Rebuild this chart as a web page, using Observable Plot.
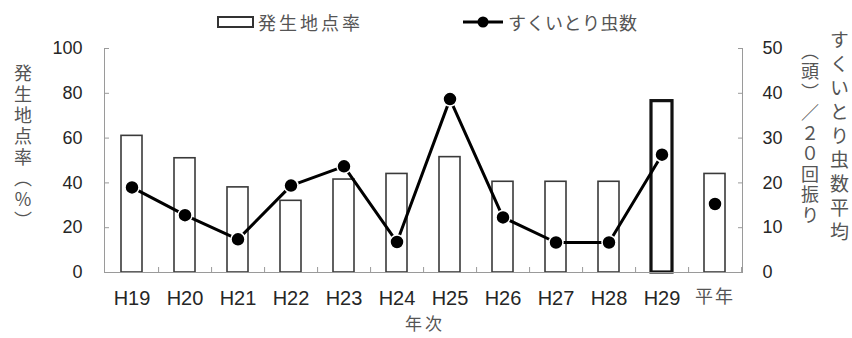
<!DOCTYPE html>
<html><head><meta charset="utf-8">
<script src="https://cdn.jsdelivr.net/npm/d3@7"></script>
<script src="https://cdn.jsdelivr.net/npm/@observablehq/plot@0.6"></script>
<style>
body{margin:0;background:#fff;}
#wrap{position:relative;width:852px;height:338px;overflow:hidden;font-family:"Noto Sans CJK JP",sans-serif;}
.vt{position:absolute;writing-mode:vertical-rl;color:#555;font-family:"Noto Sans CJK JP",sans-serif;white-space:nowrap;}
.up{text-orientation:upright;}
#legend{position:absolute;top:0;left:0;width:852px;height:40px;}
.lg{position:absolute;color:#555;font-size:18px;line-height:18px;font-family:"Noto Sans CJK JP",sans-serif;}
#xt{position:absolute;color:#555;font-size:17px;line-height:17px;letter-spacing:3px;}
svg{position:absolute;top:0;left:0;}
</style></head>
<body><div id="wrap"></div>
<script>
const years = ["H19","H20","H21","H22","H23","H24","H25","H26","H27","H28","H29","平年"];
const rate = [61, 51, 38, 32, 41.5, 44, 51.5, 40.5, 40.5, 40.5, 76.5, 44];
const counts = [19, 12.8, 7.4, 19.4, 23.7, 6.8, 38.7, 12.3, 6.7, 6.7, 26.3, 15.3];
const highlight = "H29";
const normalYear = "平年";
const leftTicks = [0, 20, 40, 60, 80, 100];
const rightTicks = [0, 10, 20, 30, 40, 50];
const leftTitle = "発生地点率（％）";
const rightTitle1 = "すくいとり虫数平均";
const rightTitle2 = "（頭）／２０回振り";
const xTitle = "年次";
const legendBar = "発生地点率";
const legendLine = "すくいとり虫数";

const data = years.map((y, i) => ({year: y, rate: rate[i], count: counts[i]}));
const k = 100 / 50; // right axis maps 0-50 onto the left 0-100 scale

const W = 852, H = 338, ML = 104, MR = 110, MT = 48, MB = 66;
const step = (W - ML - MR) / years.length;
const numFont = "'Liberation Sans', Arial, sans-serif";

const plot = Plot.plot({
  width: W, height: H,
  marginLeft: ML, marginRight: MR, marginTop: MT, marginBottom: MB,
  style: {fontFamily: numFont, background: "transparent", overflow: "visible"},
  x: {type: "band", domain: years, paddingInner: 0.6, paddingOuter: 0.3, label: null},
  y: {domain: [0, 100], label: null},
  marks: [
    Plot.barY(data.filter(d => d.year !== highlight), {x: "year", y: "rate", fill: "white", stroke: "#3a3a3a", strokeWidth: 1.6}),
    Plot.barY(data.filter(d => d.year === highlight), {x: "year", y: "rate", fill: "white", stroke: "#111", strokeWidth: 3.2}),
    Plot.ruleY([0], {stroke: "#9a9a9a", strokeWidth: 1}),
    Plot.frame({anchor: "left", stroke: "#9a9a9a"}),
    Plot.frame({anchor: "right", stroke: "#9a9a9a"}),
    Plot.axisY({anchor: "left", ticks: leftTicks, tickSize: -5, stroke: "#9a9a9a", text: null}),
    Plot.axisY({anchor: "left", ticks: leftTicks, tickSize: 0, tickPadding: 22, fontSize: 18, fill: "#262626", label: null}),
    Plot.axisY({anchor: "right", ticks: rightTicks.map(v => v * k), tickSize: -5, stroke: "#9a9a9a", text: null}),
    Plot.axisY({anchor: "right", ticks: rightTicks.map(v => v * k), tickFormat: d => d / k, tickSize: 0, tickPadding: 20, fontSize: 18, fill: "#262626", label: null, textAnchor: "start"}),
    Plot.axisX({anchor: "bottom", tickSize: -5, stroke: "#9a9a9a", text: null, dx: step / 2}),
    Plot.axisX({anchor: "bottom", tickSize: 0, tickPadding: 18, fontSize: 20, fill: "#262626", label: null,
      tickFormat: d => d}),
    Plot.line(data.filter(d => d.year !== normalYear), {x: "year", y: d => d.count * k, stroke: "black", strokeWidth: 3}),
    Plot.dot(data, {x: "year", y: d => d.count * k, r: 7, fill: "black", stroke: "white", strokeWidth: 1.5})
  ]
});

const wrap = document.getElementById("wrap");
wrap.appendChild(plot);

// Japanese tick label in gray
d3.select(plot).selectAll("text").filter(function(){ return this.textContent === normalYear; })
  .attr("fill", "#555").style("font-family", "'Noto Sans CJK JP', sans-serif").style("font-size", "18px").style("letter-spacing", "2px");

// Legend (HTML above the plot area)
const lg = document.createElement("div");
lg.id = "legend";
lg.innerHTML = `
<svg width="852" height="40" style="position:absolute;top:0;left:0">
  <rect x="218" y="17" width="35" height="10" fill="white" stroke="#333" stroke-width="2"></rect>
  <line x1="463" y1="22" x2="503" y2="22" stroke="black" stroke-width="3"></line>
  <circle cx="483" cy="22" r="5.5" fill="black"></circle>
</svg>
<div class="lg" style="left:258px;top:13px;letter-spacing:3px">${legendBar}</div>
<div class="lg" style="left:508px;top:13px;letter-spacing:0.5px">${legendLine}</div>`;
wrap.appendChild(lg);

function addV(text, left, top, size, ls, upright){
  const d = document.createElement("div");
  d.className = "vt" + (upright ? " up" : "");
  d.textContent = text;
  d.style.left = left + "px"; d.style.top = top + "px";
  d.style.fontSize = size + "px"; d.style.letterSpacing = ls + "px";
  d.style.lineHeight = size + "px";
  wrap.appendChild(d);
}
addV(leftTitle, 14, 64, 18, 3, true);
addV(rightTitle1, 830, 30, 19, 5, true);
addV(rightTitle2, 801, 42, 18, 2.5, true);

const xt = document.createElement("div");
xt.id = "xt";
xt.textContent = xTitle;
xt.style.left = "405px"; xt.style.top = "314px";
wrap.appendChild(xt);
</script></body></html>
